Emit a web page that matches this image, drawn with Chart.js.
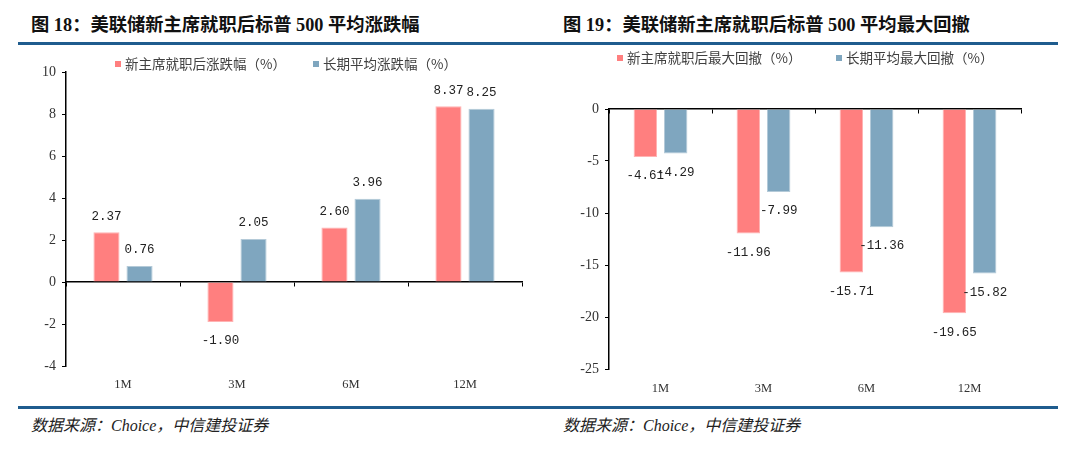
<!DOCTYPE html>
<html>
<head>
<meta charset="utf-8">
<script src="https://cdn.jsdelivr.net/npm/chart.js@4.4.1/dist/chart.umd.min.js"></script>
<style>
body { margin: 0; width: 1080px; height: 450px; background: #fff; position: relative; overflow: hidden; font-family: "Noto Sans CJK SC", sans-serif; }
.title { position: absolute; top: 12px; font: bold 18.3px "Liberation Serif", "Noto Sans CJK SC"; color: #111; line-height: 26px; white-space: nowrap; }
.rule { position: absolute; left: 18px; width: 1040px; height: 3px; background: #1f5c8e; }
.src { position: absolute; top: 416px; font: italic 16px "Liberation Serif", "Noto Sans CJK SC"; color: #222; line-height: 20px; white-space: nowrap; }
.box { position: absolute; top: 48px; width: 540px; height: 358px; }
.lg { position: absolute; font-size: 13.5px; color: #404040; white-space: nowrap; line-height: 18px; }
.lg i { display: inline-block; width: 6px; height: 6px; margin-right: 4px; vertical-align: middle; position: relative; top: -1px; }
</style>
</head>
<body>
<div class="title" style="left:31px">图 18：美联储新主席就职后标普 500 平均涨跌幅</div>
<div class="title" style="left:563px">图 19：美联储新主席就职后标普 500 平均最大回撤</div>
<div class="rule" style="top:42px"></div>
<div class="rule" style="top:406px"></div>
<div class="src" style="left:31px">数据来源：Choice，中信建投证券</div>
<div class="src" style="left:563px">数据来源：Choice，中信建投证券</div>

<div class="box" style="left:0"><canvas id="c1"></canvas></div>
<div class="box" style="left:540px"><canvas id="c2"></canvas></div>
<div id="legends"></div>

<script>
const periods = ['1M', '3M', '6M', '12M'];

// 图18 平均涨跌幅
const riseNew = [2.37, -1.90, 2.60, 8.37];
const riseAvg = [0.76, 2.05, 3.96, 8.25];
const riseNames = ['新主席就职后涨跌幅（%）', '长期平均涨跌幅（%）'];
const riseAxis = [-4, 10, 2];

// 图19 平均最大回撤
const ddNew = [-4.61, -11.96, -15.71, -19.65];
const ddAvg = [-4.29, -7.99, -11.36, -15.82];
const ddNames = ['新主席就职后最大回撤（%）', '长期平均最大回撤（%）'];
const ddAxis = [-25, 0, 5];

const RED = '#ff7f7f';
const BLUE = '#7fa6bf';

// html legends
function legend(names, xs, y) {
    const wrap = document.getElementById('legends');
    names.forEach((n, i) => {
        const d = document.createElement('div');
        d.className = 'lg';
        d.style.left = xs[i] + 'px';
        d.style.top = (y - 9) + 'px';
        d.innerHTML = `<i style="background:${i ? BLUE : RED}"></i>${n}`;
        wrap.appendChild(d);
    });
}
legend(riseNames, [115, 313], 63);
legend(ddNames, [617, 836], 57);

const valueLabels = {
    id: 'valueLabels',
    afterDatasetsDraw(chart) {
        const ctx = chart.ctx;
        ctx.save();
        ctx.font = '12.5px "Liberation Mono"';
        ctx.fillStyle = '#222';
        ctx.textAlign = 'center';
        ctx.textBaseline = 'middle';
        chart.data.datasets.forEach((ds, i) => {
            chart.getDatasetMeta(i).data.forEach((bar, j) => {
                const v = ds.data[j];
                ctx.fillText(v.toFixed(2), bar.x, v >= 0 ? bar.y - 16 : bar.y + 19);
            });
        });
        ctx.restore();
    }
};

function makeChart(id, a, b, names, axis, c) {
    const bar = (label, data, color, edge) => ({
        label, data, backgroundColor: color, borderColor: edge, borderWidth: 1,
        categoryPercentage: c.cat, barPercentage: c.bar, xAxisID: 'x', yAxisID: 'y'
    });
    return new Chart(document.getElementById(id), {
        type: 'bar',
        data: {
            labels: periods,
            datasets: [bar(names[0], a, RED, '#ffb3b3'), bar(names[1], b, BLUE, '#b4cad8')]
        },
        options: {
            responsive: true,
            maintainAspectRatio: false,
            animation: false,
            layout: { padding: { top: c.top, right: c.right, left: 0, bottom: 0 } },
            plugins: { legend: { display: false }, tooltip: { enabled: false } },
            scales: {
                x: {
                    type: 'category', position: { y: 0 }, offset: true,
                    grid: { display: true, drawOnChartArea: false, drawTicks: true, tickLength: 4, color: '#000', lineWidth: 1 },
                    border: { display: true, color: '#000', width: 1.5 },
                    ticks: { display: false }
                },
                x2: {
                    type: 'category', position: 'bottom', offset: true,
                    grid: { display: false, drawTicks: false },
                    border: { display: false },
                    ticks: { padding: c.labPad, color: '#333', font: { family: 'Liberation Serif', size: 12.5 } },
                    afterFit(s) { s.height = c.bottom; }
                },
                y: {
                    min: axis[0], max: axis[1],
                    ticks: { stepSize: axis[2], padding: 6, color: '#333', font: { family: 'Liberation Serif', size: 14 } },
                    grid: { drawOnChartArea: false, drawTicks: true, tickLength: 4, color: '#000' },
                    border: { color: '#000', width: 1.5 },
                    afterFit(s) { s.width = c.yw; }
                }
            }
        },
        plugins: [valueLabels]
    });
}

makeChart('c1', riseNew, riseAvg, riseNames, riseAxis,
    { top: 24, right: 18, bottom: 40, labPad: 11, yw: 66, cat: 0.58, bar: 0.79 });
makeChart('c2', ddNew, ddAvg, ddNames, ddAxis,
    { top: 61, right: 59, bottom: 37, labPad: 12, yw: 69, cat: 0.59, bar: 0.77 });
</script>
</body>
</html>
